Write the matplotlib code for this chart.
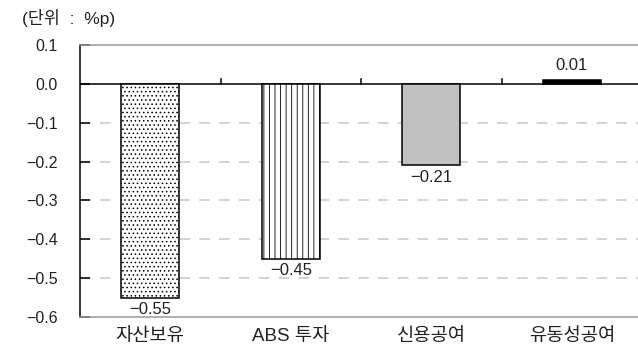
import matplotlib.pyplot as plt
import numpy as np

plt.rcParams["font.family"] = ["Liberation Sans", "Noto Sans CJK KR", "DejaVu Sans"]
plt.rcParams["hatch.linewidth"] = 0.6
plt.rcParams["axes.unicode_minus"] = True

categories = ["자산보유", "ABS 투자", "신용공여", "유동성공여"]
values = [-0.55, -0.45, -0.21, 0.01]
labels = ["\u22120.55", "\u22120.45", "\u22120.21", "0.01"]
y_ticks = [0.1, 0.0, -0.1, -0.2, -0.3, -0.4, -0.5, -0.6]

fills = ["white", "white", "#c0c0c0", "black"]
hatches = ["....", "|||", None, None]

fig = plt.figure(figsize=(6.38, 3.52), dpi=100)
ax = fig.add_axes([80 / 638, 35 / 352, 562 / 638, 272 / 352])

x = np.arange(len(categories))
for xi, v, fc, h in zip(x, values, fills, hatches):
    ax.bar(xi, v, width=0.41, color=fc, edgecolor="black", linewidth=1.1,
           hatch=h, zorder=3)

for xi, v, lab in zip(x, values, labels):
    if v < 0:
        ax.annotate(lab, (xi, v), xytext=(0, -3), textcoords="offset points",
                    ha="center", va="top", fontsize=12, color="#222222", zorder=4)
    else:
        ax.annotate(lab, (xi, v), xytext=(0, 5), textcoords="offset points",
                    ha="center", va="bottom", fontsize=12, color="#222222", zorder=4)

ax.set_xlim(-0.5, len(categories) - 0.5)
ax.set_ylim(-0.6, 0.1)
ax.set_yticks(y_ticks)
ax.set_yticklabels([f"{t:.1f}".replace("-", "\u2212") for t in y_ticks], fontsize=11.5,
                   color="#222222")
ax.set_xticks(x)
ax.set_xticklabels(categories, fontsize=13.5, color="#222222")
ax.tick_params(axis="x", length=0, pad=8)
ax.tick_params(axis="y", direction="in", length=7, width=1.1, pad=16)

# dashed guides for the negative range
for t in y_ticks[2:-1]:
    ax.axhline(t, color="#c8c8c8", linewidth=1.1, linestyle=(0, (7, 6)), zorder=1)
ax.axhline(0, color="black", linewidth=1.1, zorder=2)

# boundary ticks between categories on the zero line
for b in x[:-1] + 0.5:
    ax.plot([b, b], [0, 0.012], color="black", linewidth=1.1, zorder=2)

ax.spines["right"].set_visible(False)
ax.spines["top"].set_color("#999999")
ax.spines["bottom"].set_color("#999999")
ax.spines["top"].set_linewidth(1.1)
ax.spines["bottom"].set_linewidth(1.1)
ax.spines["left"].set_linewidth(1.1)

fig.text(22 / 638, 1 - 18 / 352, "(단위  :  %p)", fontsize=12.5, va="center", ha="left",
         color="#222222")

fig.savefig("out.png", dpi=100)
